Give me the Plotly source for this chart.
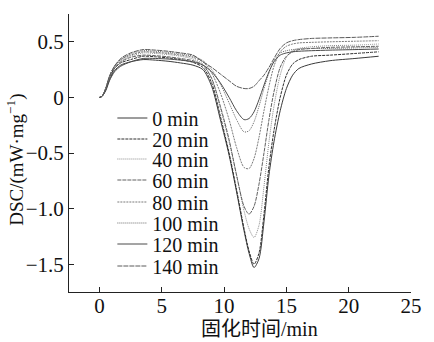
import plotly.graph_objects as go

# ---- data ----
time_min = [0, 0.2, 0.5, 0.8, 1.2, 1.7, 2.5, 3.5, 4.5, 5.5, 6.5, 7.5, 8.3, 9.0, 9.7, 10.4,
            11.0, 11.6, 12.0, 12.4, 12.8, 13.2, 13.6, 14.0, 14.5, 15.0, 15.5, 16.0, 17.0,
            18.5, 20.5, 22.4]

series_names = ["0 min", "20 min", "40 min", "60 min", "80 min", "100 min", "120 min", "140 min"]

dsc_0 = [0, 0.01, 0.07, 0.16, 0.24, 0.29, 0.32, 0.34, 0.335, 0.325, 0.31, 0.29, 0.25, 0.10,
         -0.20, -0.52, -0.85, -1.20, -1.40, -1.53, -1.45, -1.12, -0.70, -0.40, -0.12, 0.08,
         0.20, 0.26, 0.30, 0.33, 0.35, 0.37]
dsc_20 = [0, 0.01, 0.08, 0.18, 0.26, 0.31, 0.34, 0.37, 0.365, 0.355, 0.34, 0.315, 0.27, 0.13,
          -0.17, -0.50, -0.83, -1.18, -1.38, -1.50, -1.40, -1.05, -0.62, -0.30, 0.00, 0.20,
          0.30, 0.34, 0.37, 0.38, 0.395, 0.41]
dsc_40 = [0, 0.01, 0.08, 0.18, 0.27, 0.33, 0.37, 0.40, 0.395, 0.385, 0.37, 0.345, 0.30, 0.17,
          -0.10, -0.40, -0.70, -1.02, -1.18, -1.26, -1.15, -0.80, -0.40, -0.08, 0.20, 0.36,
          0.42, 0.44, 0.455, 0.465, 0.47, 0.48]
dsc_60 = [0, 0.01, 0.07, 0.17, 0.26, 0.32, 0.36, 0.38, 0.375, 0.365, 0.35, 0.33, 0.29, 0.17,
          -0.08, -0.38, -0.70, -0.98, -1.05, -0.98, -0.78, -0.50, -0.20, 0.05, 0.27, 0.37,
          0.41, 0.43, 0.44, 0.45, 0.455, 0.46]
dsc_80 = [0, 0.01, 0.08, 0.19, 0.28, 0.34, 0.38, 0.41, 0.405, 0.395, 0.38, 0.36, 0.32, 0.22,
          0.04, -0.20, -0.45, -0.63, -0.64, -0.55, -0.36, -0.12, 0.10, 0.28, 0.41, 0.46,
          0.48, 0.49, 0.495, 0.50, 0.505, 0.51]
dsc_100 = [0, 0.01, 0.08, 0.19, 0.28, 0.34, 0.39, 0.42, 0.415, 0.405, 0.39, 0.37, 0.33, 0.25,
           0.12, -0.05, -0.20, -0.31, -0.30, -0.22, -0.08, 0.08, 0.22, 0.33, 0.40, 0.42,
           0.43, 0.435, 0.44, 0.44, 0.445, 0.45]
dsc_120 = [0, 0.01, 0.06, 0.15, 0.23, 0.28, 0.32, 0.35, 0.35, 0.345, 0.335, 0.32, 0.29, 0.23,
           0.13, 0.00, -0.12, -0.20, -0.19, -0.13, -0.02, 0.11, 0.23, 0.32, 0.38, 0.40,
           0.41, 0.415, 0.42, 0.425, 0.43, 0.435]
dsc_140 = [0, 0.01, 0.08, 0.19, 0.28, 0.35, 0.40, 0.43, 0.425, 0.415, 0.40, 0.38, 0.32, 0.27,
           0.21, 0.15, 0.10, 0.08, 0.08, 0.10, 0.15, 0.20, 0.27, 0.35, 0.44, 0.49, 0.51,
           0.52, 0.53, 0.535, 0.54, 0.55]

x_tick_vals = [0, 5, 10, 15, 20, 25]
x_tick_text = ["0", "5", "10", "15", "20", "25"]
y_tick_vals = [0.5, 0, -0.5, -1.0, -1.5]
y_tick_text = ["0.5", "0", "\u22120.5", "\u22121.0", "\u22121.5"]

all_series = [dsc_0, dsc_20, dsc_40, dsc_60, dsc_80, dsc_100, dsc_120, dsc_140]

# ---- styles ----
colors = ["#3a3a3a", "#2e2e2e", "#8a8a8a", "#606060", "#7a7a7a", "#6a6a6a", "#4a4a4a", "#5a5a5a"]
dashes = ["solid", "3px,1px", "1px,1px", "4px,1px", "2px,1px", "1px,1px", "solid", "5px,1px"]

SERIF = "Liberation Serif, Noto Sans CJK SC, serif"

fig = go.Figure()
legend_ids = ["legend"] + ["legend%d" % i for i in range(2, 9)]
for i, (name, ys) in enumerate(zip(series_names, all_series)):
    fig.add_trace(go.Scatter(
        x=time_min, y=ys, mode="lines", name=name,
        line=dict(color=colors[i], width=1, dash=dashes[i], shape="spline", smoothing=0.8),
        legend=legend_ids[i],
    ))

# plot area in pixels
L, R, T, B = 69, 18, 14, 50
W, H = 434, 342
pw, ph = W - L - R, H - T - B

layout_legends = {}
row_y_px = [118, 139, 159, 180, 202, 223, 244, 266]
for i, lid in enumerate(legend_ids):
    layout_legends[lid] = dict(
        x=(113 - L) / pw, y=(H - B - row_y_px[i]) / ph,
        xanchor="left", yanchor="middle",
        bgcolor="rgba(0,0,0,0)", borderwidth=0,
        font=dict(family=SERIF, size=20, color="#111"),
        itemwidth=30,
    )

fig.update_layout(
    width=W, height=H,
    margin=dict(l=L, r=R, t=T, b=B, pad=0),
    paper_bgcolor="white", plot_bgcolor="white",
    showlegend=True,
    font=dict(family=SERIF, size=20, color="#111"),
    xaxis=dict(range=[-2.45, 25], tickvals=x_tick_vals, ticktext=x_tick_text,
               ticks="inside", ticklen=5, tickwidth=1, tickcolor="#222",
               ticklabelstandoff=-5,
               showline=True, linecolor="#222", linewidth=1, showgrid=False, zeroline=False,
               tickfont=dict(family=SERIF, size=21, color="#111")),
    yaxis=dict(range=[-1.75, 0.75], tickvals=y_tick_vals, ticktext=y_tick_text,
               ticks="inside", ticklen=5, tickwidth=1, tickcolor="#222",
               showline=True, linecolor="#222", linewidth=1, showgrid=False, zeroline=False,
               tickfont=dict(family=SERIF, size=21, color="#111")),
    annotations=[
        dict(text="DSC/(mW\u00b7mg<sup>\u22121</sup>)", xref="paper", yref="paper",
             x=(14 - L) / pw, y=(H - B - 160) / ph, textangle=-90, showarrow=False,
             xanchor="center", yanchor="middle", font=dict(family=SERIF, size=19, color="#111")),
        dict(text="固化时间/min", xref="paper", yref="paper",
             x=(262 - L) / pw, y=(H - B - 329) / ph, showarrow=False,
             xanchor="center", yanchor="middle", font=dict(family=SERIF, size=20, color="#111")),
    ],
    **layout_legends,
)

fig.write_html("out.html")
